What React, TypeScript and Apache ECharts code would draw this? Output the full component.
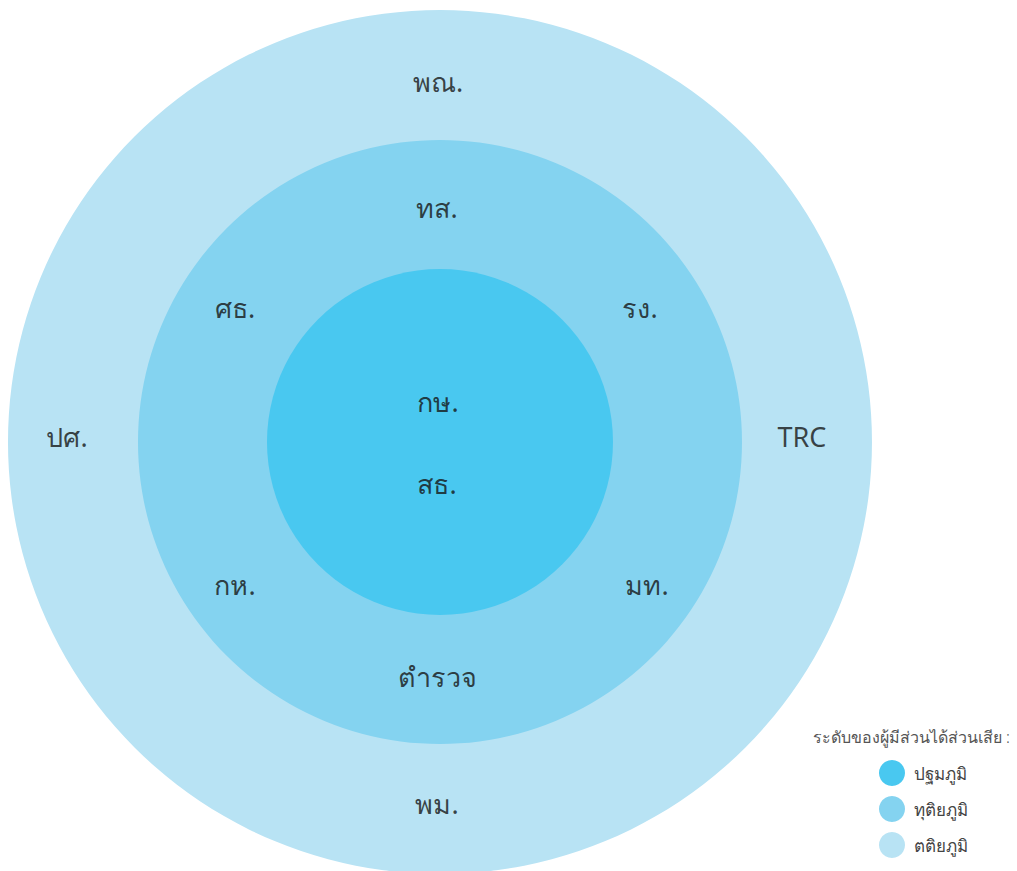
import React, { useEffect, useRef } from "react";
import * as echarts from "echarts";

// Stakeholder levels (inner → outer)
const levels = ["ปฐมภูมิ", "ทุติยภูมิ", "ตติยภูมิ"];
const levelColors = ["#49c8f0", "#84d3f0", "#b8e3f4"];

// Label names and their positions (offset from centre, y up)
const labelNames = ["พณ.", "ทส.", "ศธ.", "รง.", "กษ.", "สธ.", "ปศ.", "TRC", "กห.", "มท.", "ตำรวจ", "พม."];
const labelX = [-2, -3, -205, 200, -2, -3, -373, 362, -205, 207, -3, -3];
const labelY = [360, 234, 133, 133, 39, -43, 4, 4, -145, -145, -237, -364];

const legendTitle = "ระดับของผู้มีส่วนได้ส่วนเสีย :";

const FONT = "'Noto Sans', 'Open Sans', sans-serif";

export default function App() {
  const ref = useRef<HTMLDivElement>(null);
  useEffect(() => {
    document.body.style.margin = "0";
    const chart = echarts.init(ref.current!, null, { renderer: "svg" });
    const radii = [173, 302, 432];
    const cx = 440;
    const cy = 442;
    const pies = levels
      .map((name, i) => ({
        type: "pie",
        name,
        center: [cx, cy],
        radius: [0, radii[i]],
        silent: true,
        z: 5 - i,
        label: { show: false },
        labelLine: { show: false },
        itemStyle: { color: levelColors[i], borderWidth: 0 },
        data: [{ name, value: 1 }],
      }))
      .reverse();
    chart.setOption({
      animation: false,
      backgroundColor: "#ffffff",
      title: {
        text: legendTitle,
        right: 2,
        top: 724,
        textStyle: { fontFamily: FONT, fontSize: 16, fontWeight: 300, color: "#555" },
      },
      legend: {
        data: levels,
        orient: "vertical",
        left: 874,
        top: 755,
        icon: "circle",
        itemWidth: 26,
        itemHeight: 26,
        itemGap: 10,
        selectedMode: false,
        textStyle: { fontFamily: FONT, fontSize: 17, fontWeight: 300, color: "#444", padding: [0, 0, 0, 4] },
      },
      grid: { left: cx - 432, width: 864, top: cy - 432, height: 864 },
      xAxis: { type: "value", min: -432, max: 432, show: false },
      yAxis: { type: "value", min: -432, max: 432, show: false },
      series: [
        ...pies,
        {
          type: "scatter",
          z: 20,
          silent: true,
          symbolSize: 0,
          label: {
            show: true,
            position: "inside",
            formatter: "{b}",
            fontFamily: FONT,
            fontSize: 27,
            fontWeight: "normal",
            color: "#151515",
          },
          data: labelNames.map((n, i) => ({ name: n, value: [labelX[i], labelY[i]] })),
        },
      ],
    });
    return () => chart.dispose();
  }, []);
  return <div ref={ref} style={{ width: 1017, height: 871 }} />;
}
